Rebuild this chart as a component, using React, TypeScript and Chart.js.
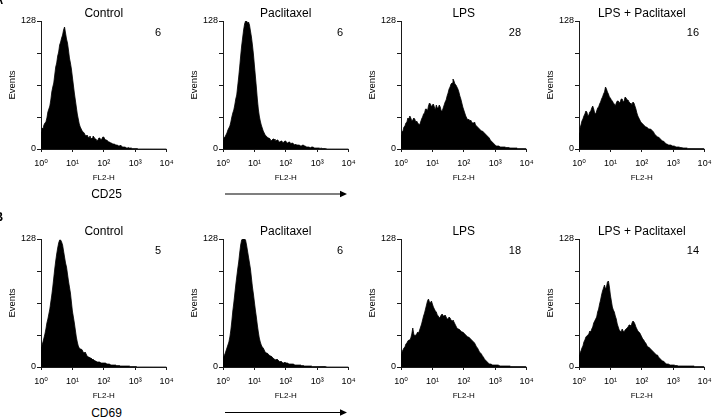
import React, { useEffect, useRef } from 'react';
import { Chart, registerables } from 'chart.js';

Chart.register(...registerables);

const FONT = '"Liberation Sans", Arial, Helvetica, "DejaVu Sans", sans-serif';

const panelTitles = ['Control', 'Paclitaxel', 'LPS', 'LPS + Paclitaxel'];
const cd25Counts = ['6', '6', '28', '16'];
const cd69Counts = ['5', '6', '18', '14'];
const rowMarkers = ['A', 'B'];
const markerNames = ['CD25', 'CD69'];
const decadeChannels = [0, 32, 64, 96, 128];
const decadeLabels = ['10⁰', '10¹', '10²', '10³', '10⁴'];
const eventTicks = [0, 32, 64, 96, 128];
const eventLabels = ['0', '', '', '', '128'];

// Events per channel (32 channels per decade, 10^0 .. 10^4)
const cd25Control = [
  17, 21, 20, 24, 26, 27, 31, 37, 40, 43, 49, 57, 62, 66, 74, 82, 86, 93, 97, 104,
  107, 111, 114, 119, 122, 116, 110, 106, 99, 91, 86, 80, 72, 64, 56, 49, 42, 35, 30, 25,
  22, 20, 18, 17, 16, 14, 13, 14, 12, 11, 13, 10, 11, 13, 12, 10, 10, 8, 9, 11,
  11, 9, 10, 12, 12, 10, 9, 9, 8, 7, 7, 6, 6, 5, 5, 5, 4, 4, 4, 3,
  3, 4, 3, 2, 2, 2, 2, 1, 1, 1.5, 1, 1, 1, 0.5, 0.5, 0.5, 0.5, 0.5, 0.5, 0,
  0, 0, 0, 0, 0, 0, 0, 0, 0, 0, 0, 0, 0, 0, 0, 0, 0, 0, 0, 0,
  0, 0, 0, 0, 0, 0, 0, 0, 0,
];
const cd25Paclitaxel = [
  9, 11, 12, 14, 16, 19, 21, 23, 27, 32, 36, 39, 44, 50, 54, 63, 72, 82, 93, 103,
  111, 119, 125, 128, 128, 126, 127, 124, 118, 112, 104, 95, 84, 73, 62, 50, 40, 33, 28, 24,
  21, 18, 16, 14, 13, 12, 11, 11, 10, 8, 9, 10, 10, 8, 8, 9, 9, 7, 7, 8,
  8, 6, 7, 8, 8, 6, 6, 7, 7, 5, 6, 6, 5, 4, 5, 4, 4, 4, 4, 3,
  3, 4, 4, 3, 3, 2, 2, 2, 2, 1, 2, 2, 2, 1, 1, 1, 1, 1, 1, 0.5,
  1, 0.5, 0.5, 0.5, 0.5, 0, 0, 0, 0, 0, 0, 0, 0, 0, 0, 0, 0, 0, 0, 0,
  0, 0, 0, 0, 0, 0, 0, 0, 0,
];
const cd25Lps = [
  14, 17, 18, 22, 23, 26, 27, 31, 30, 33, 31, 28, 29, 31, 30, 27, 28, 26, 25, 24,
  27, 30, 32, 35, 36, 40, 40, 38, 43, 46, 45, 42, 44, 45, 42, 39, 44, 41, 41, 44,
  42, 38, 38, 41, 44, 47, 49, 53, 56, 60, 62, 65, 66, 70, 68, 65, 64, 62, 60, 57,
  53, 50, 46, 42, 39, 36, 33, 31, 29, 30, 28, 29, 27, 26, 26, 27, 24, 23, 22, 21,
  20, 19, 18, 18, 17, 16, 15, 14, 13, 12, 11, 9, 8, 7, 6, 5, 4, 3, 3, 3,
  3, 2, 2, 2, 2, 2, 2, 1.5, 1.5, 1.5, 1.5, 1, 1, 1, 1, 1, 1, 1, 1, 0.5,
  0.5, 0.5, 0.5, 0.5, 0.5, 0.5, 0.5, 0.5, 0,
];
const cd25LpsPaclitaxel = [
  16, 21, 24, 28, 30, 33, 35, 38, 37, 33, 34, 37, 38, 41, 43, 40, 36, 35, 38, 41,
  42, 45, 47, 50, 52, 55, 57, 62, 60, 57, 55, 52, 51, 49, 48, 46, 45, 43, 46, 48,
  48, 46, 47, 50, 50, 47, 48, 52, 51, 49, 49, 47, 46, 45, 44, 47, 46, 43, 40, 36,
  33, 31, 29, 27, 26, 25, 24, 23, 22, 22, 21, 20, 20, 20, 19, 18, 17, 15, 14, 13,
  12, 12, 11, 10, 9, 8, 8, 7, 6, 5, 5, 4, 4, 4, 4, 3, 3, 3, 2.5, 2,
  2, 2, 2, 1.5, 1.5, 1, 1, 1, 1, 1, 1, 0.5, 0.5, 0.5, 0.5, 0.5, 0.5, 0.5, 0.5, 0.5,
  0.5, 0.5, 0.5, 0.5, 0.5, 0.5, 0.5, 0.5, 0,
];
const cd69Control = [
  20, 22, 25, 29, 33, 38, 44, 48, 53, 58, 65, 72, 80, 89, 98, 106, 113, 119, 124, 127,
  127, 125, 122, 116, 110, 104, 100, 93, 86, 80, 74, 65, 56, 50, 44, 37, 30, 25, 21, 19,
  18, 18, 17, 15, 14, 15, 13, 11, 10, 10, 9, 9, 8, 7, 7, 6, 6, 5, 5, 5,
  5, 4, 4, 4, 4, 4, 4, 3, 3, 3, 3, 2, 2, 2, 2, 2, 2, 1.5, 1.5, 1.5,
  1.5, 1, 1, 1, 1, 1, 1, 1, 1, 1, 1, 0.5, 0.5, 0.5, 0.5, 0.5, 0.5, 0.5, 0, 0,
  0, 0, 0, 0, 0, 0, 0, 0, 0, 0, 0, 0, 0, 0, 0, 0, 0, 0, 0, 0,
  0, 0, 0, 0, 0, 0, 0, 0, 0,
];
const cd69Paclitaxel = [
  10, 11, 13, 16, 19, 22, 25, 30, 37, 46, 56, 64, 73, 82, 90, 98, 105, 114, 122, 127,
  128, 128, 128, 127, 122, 116, 110, 104, 98, 89, 80, 73, 65, 57, 50, 42, 35, 29, 25, 22,
  20, 19, 17, 15, 14, 14, 13, 12, 11, 11, 10, 9, 8, 8, 7, 8, 7, 6, 5, 6,
  5, 4, 4, 5, 4, 4, 4, 3, 3, 3, 3, 3, 3, 2, 2, 2, 2, 2, 2, 2,
  1.5, 1.5, 1.5, 1, 1, 1, 1, 1, 1, 1, 1, 0.5, 0.5, 0.5, 0.5, 0.5, 0.5, 0.5, 0.5, 0.5,
  0.5, 0.5, 0.5, 0.5, 0.5, 0.5, 0, 0, 0, 0, 0, 0, 0, 0, 0, 0, 0, 0, 0, 0,
  0, 0, 0, 0, 0, 0, 0, 0, 0,
];
const cd69Lps = [
  13, 15, 17, 19, 20, 23, 24, 26, 27, 27, 29, 33, 39, 33, 31, 32, 33, 35, 34, 37,
  40, 43, 47, 51, 54, 58, 62, 66, 68, 65, 64, 66, 63, 60, 58, 56, 55, 52, 51, 49,
  50, 52, 53, 51, 51, 52, 50, 48, 48, 50, 49, 47, 46, 47, 45, 43, 41, 39, 38, 38,
  37, 36, 35, 35, 34, 33, 32, 31, 30, 30, 29, 28, 27, 26, 25, 24, 22, 20, 19, 17,
  15, 14, 13, 11, 10, 8, 7, 6, 5, 4, 3, 3, 3, 2, 2, 2, 2, 2, 2, 2,
  1.5, 1, 1, 1, 1, 1, 1, 1, 1, 1, 1, 1, 0.5, 0.5, 0.5, 0.5, 0.5, 0.5, 0.5, 0.5,
  0.5, 0.5, 0.5, 0.5, 0.5, 0.5, 0.5, 0.5, 0,
];
const cd69LpsPaclitaxel = [
  12, 14, 16, 19, 21, 25, 27, 30, 31, 32, 33, 36, 35, 38, 40, 44, 46, 48, 50, 55,
  58, 63, 67, 72, 76, 79, 82, 78, 80, 85, 86, 80, 72, 66, 60, 57, 55, 51, 48, 43,
  40, 37, 36, 35, 38, 36, 35, 37, 38, 39, 40, 42, 42, 40, 44, 46, 45, 43, 40, 38,
  36, 35, 34, 32, 30, 28, 27, 25, 24, 22, 20, 20, 19, 18, 17, 16, 15, 14, 13, 12,
  12, 10, 9, 8, 7, 6, 6, 5, 4, 3, 3, 3, 2.5, 2, 2, 2, 2, 2, 1.5, 1.5,
  1.5, 1, 1, 1, 1, 1, 1, 1, 1, 1, 1, 1, 1, 1, 1, 1, 1, 1, 0.5, 0.5,
  0.5, 0.5, 0.5, 0.5, 0.5, 0.5, 0.5, 0.5, 0,
];

const cd25Series = [cd25Control, cd25Paclitaxel, cd25Lps, cd25LpsPaclitaxel];
const cd69Series = [cd69Control, cd69Paclitaxel, cd69Lps, cd69LpsPaclitaxel];

const CHART_LEFTS = [41, 223, 401, 579];
const ROW_TOPS = [0, 218];
const Y_AXIS_W = 41;
const PLOT_W = 131;
const PAD_RIGHT = 8;
const CANVAS_W = Y_AXIS_W + PLOT_W + PAD_RIGHT;
const TITLE_H = 21;
const PLOT_H = 128;
const X_AXIS_H = 37;
const CANVAS_H = TITLE_H + PLOT_H + X_AXIS_H;
const AXIS_COLOR = '#1a1a1a';

function Histogram(props: { title: string; count: string; values: number[]; left: number; top: number }) {
  const ref = useRef<HTMLCanvasElement | null>(null);
  const { title, count, values, left, top } = props;

  useEffect(() => {
    const canvas = ref.current;
    if (!canvas) return;
    const countPlugin = {
      id: 'countLabel',
      afterDraw(chart: any) {
        const { ctx, chartArea } = chart;
        ctx.save();
        ctx.font = `11px ${FONT}`;
        ctx.fillStyle = '#000';
        ctx.textAlign = 'right';
        ctx.textBaseline = 'middle';
        ctx.fillText(count, chartArea.right - 5.5, chartArea.top + 11.5);
        ctx.restore();
      },
    };
    const chart = new Chart(canvas, {
      type: 'line',
      data: {
        datasets: [
          {
            data: values.map((y, i) => ({ x: i, y })),
            fill: 'origin',
            backgroundColor: '#000',
            borderColor: '#000',
            borderWidth: 0.8,
            pointRadius: 0,
            tension: 0,
          },
        ],
      },
      options: {
        animation: false,
        responsive: false,
        events: [],
        layout: { padding: { left: 0, right: PAD_RIGHT, top: 0, bottom: 0 } },
        plugins: {
          legend: { display: false },
          tooltip: { enabled: false },
          title: {
            display: true,
            text: title,
            fullSize: false,
            color: '#000',
            font: { family: FONT, size: 12, weight: 'normal' },
            padding: { top: 6, bottom: TITLE_H - 6 - 14.4 },
          },
        },
        scales: {
          x: {
            type: 'linear',
            min: 0,
            max: 128,
            afterBuildTicks: (s: any) => {
              s.ticks = decadeChannels.map((v) => ({ value: v }));
            },
            afterFit: (s: any) => {
              s.height = X_AXIS_H;
            },
            ticks: {
              autoSkip: false,
              maxRotation: 0,
              padding: 6.5,
              color: '#000',
              font: { family: FONT, size: 9 },
              callback: (v: any) => decadeLabels[decadeChannels.indexOf(Number(v))] ?? '',
            },
            grid: { drawOnChartArea: false, drawTicks: true, tickLength: 3, color: AXIS_COLOR },
            border: { display: true, color: AXIS_COLOR, width: 1 },
            title: {
              display: true,
              text: 'FL2-H',
              color: '#000',
              font: { family: FONT, size: 8 },
              padding: { top: 0, bottom: 3.7 },
            },
          },
          y: {
            type: 'linear',
            min: 0,
            max: 128,
            afterBuildTicks: (s: any) => {
              s.ticks = eventTicks.map((v) => ({ value: v }));
            },
            afterFit: (s: any) => {
              s.width = Y_AXIS_W;
            },
            ticks: {
              padding: 1,
              color: '#000',
              font: { family: FONT, size: 9 },
              callback: (v: any) => eventLabels[eventTicks.indexOf(Number(v))] ?? '',
            },
            grid: { drawOnChartArea: false, drawTicks: true, tickLength: 4, color: AXIS_COLOR },
            border: { display: true, color: AXIS_COLOR, width: 1 },
            title: {
              display: true,
              text: 'Events',
              color: '#000',
              font: { family: FONT, size: 9.5 },
              padding: { top: 7, bottom: 0 },
            },
          },
        },
      } as any,
      plugins: [countPlugin],
    });
    return () => chart.destroy();
  }, [title, count, values]);

  return (
    <canvas
      ref={ref}
      width={CANVAS_W}
      height={CANVAS_H}
      style={{ position: 'absolute', left, top, width: CANVAS_W, height: CANVAS_H, display: 'block' }}
    />
  );
}

export default function App() {
  const rows = [
    { series: cd25Series, counts: cd25Counts },
    { series: cd69Series, counts: cd69Counts },
  ];
  const markerTops = [-6, 211];
  const nameTops = [188, 407];
  const arrowYs = [194, 412.5];
  return (
    <div
      style={{
        position: 'absolute',
        left: 0,
        top: 0,
        width: 720,
        height: 417,
        overflow: 'hidden',
        background: '#fff',
        fontFamily: FONT,
        color: '#000',
      }}
    >
      {rows.map((row, r) =>
        row.series.map((values, c) => (
          <Histogram
            key={`${r}-${c}`}
            title={panelTitles[c]}
            count={row.counts[c]}
            values={values}
            left={CHART_LEFTS[c] - Y_AXIS_W}
            top={ROW_TOPS[r]}
          />
        ))
      )}
      {rowMarkers.map((m, r) => (
        <div
          key={m}
          style={{ position: 'absolute', left: -5.5, top: markerTops[r], fontSize: 12, lineHeight: '12px', fontWeight: 'bold' }}
        >
          {m}
        </div>
      ))}
      {markerNames.map((n, r) => (
        <div
          key={n}
          style={{
            position: 'absolute',
            left: CHART_LEFTS[0],
            width: PLOT_W,
            top: nameTops[r],
            fontSize: 12,
            lineHeight: '12px',
            textAlign: 'center',
          }}
        >
          {n}
        </div>
      ))}
      <svg width={720} height={417} style={{ position: 'absolute', left: 0, top: 0, pointerEvents: 'none' }}>
        {arrowYs.map((y, i) => (
          <g key={i}>
            <line x1={225} y1={y} x2={341} y2={y} stroke="#000" strokeWidth={1.2} />
            <polygon points={`${340},${y - 3.2} ${347},${y} ${340},${y + 3.2}`} fill="#000" />
          </g>
        ))}
      </svg>
    </div>
  );
}
